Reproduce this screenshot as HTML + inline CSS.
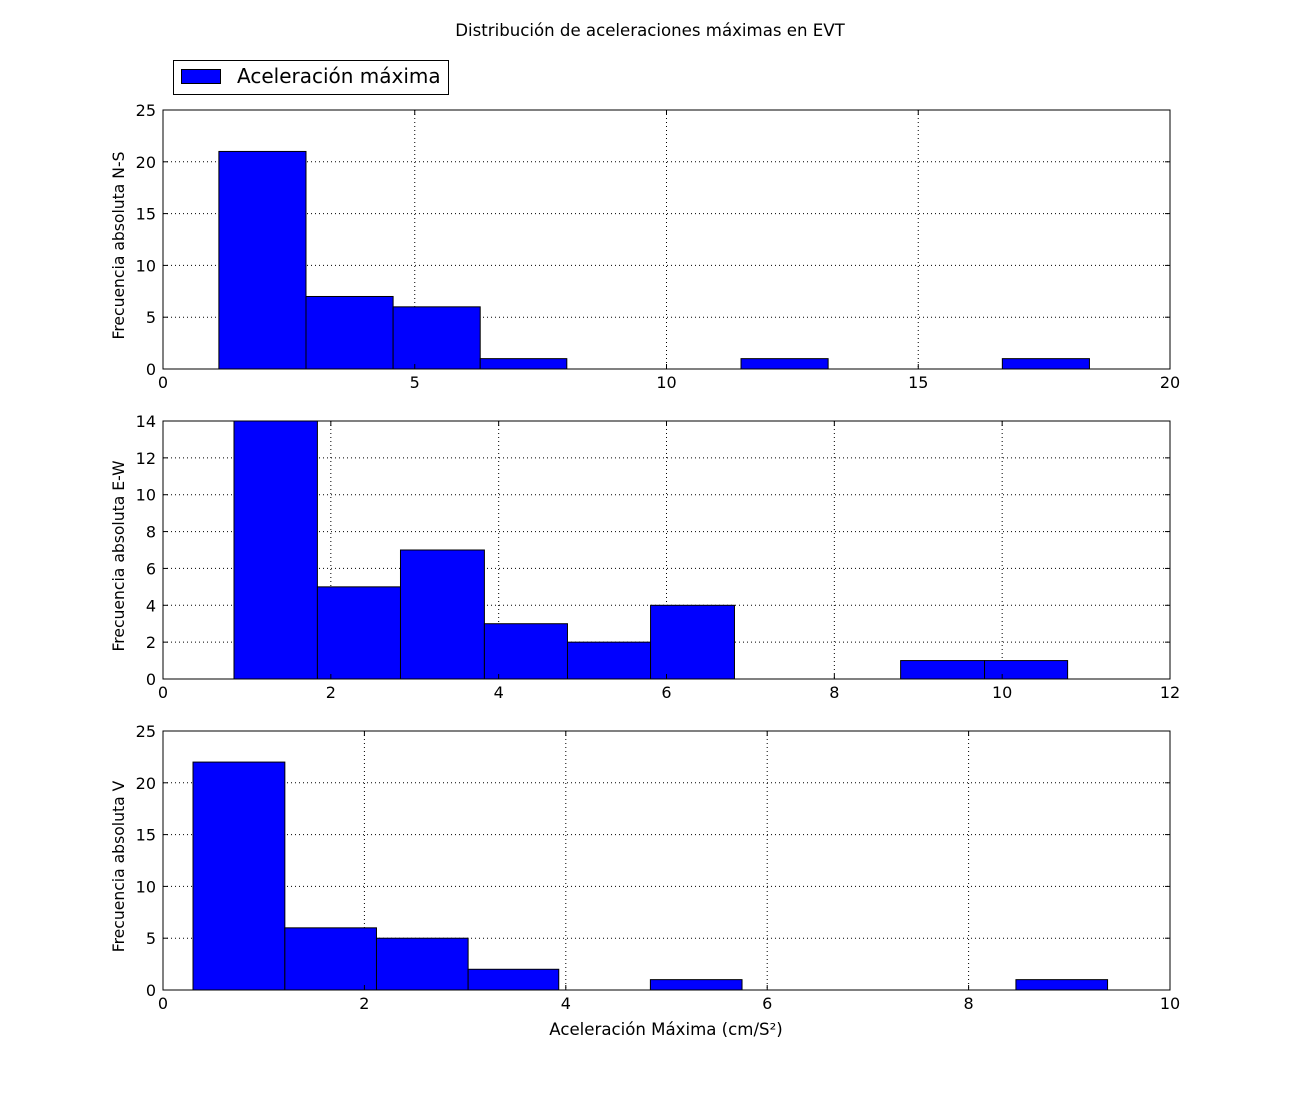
<!DOCTYPE html>
<html><head><meta charset="utf-8"><style>
body{margin:0;background:#fff;}
svg{display:block;font-family:"DejaVu Sans","Liberation Sans",sans-serif;}
</style></head><body>
<svg id="c" width="1300" height="1100" viewBox="0 0 1300 1100">
<text x="650" y="36" text-anchor="middle" font-size="16.6">Distribución de aceleraciones máximas en EVT</text>
<g>
<rect x="173.5" y="60.5" width="275" height="34" fill="#fff" stroke="#000"/>
<rect x="181.5" y="69.5" width="39" height="14" fill="#0000ff" stroke="#000"/>
<text x="237" y="83" font-size="20">Aceleración máxima</text>
</g>
<text x="666" y="1035" text-anchor="middle" font-size="16.6">Aceleración Máxima (cm/S²)</text>
</svg>
<script>
const nsEdges=[1.11,2.84,4.57,6.30,8.02,9.75,11.48,13.21,14.94,16.67,18.40];
const nsCounts=[21,7,6,1,0,0,1,0,0,1];
const nsXTicks=[0,5,10,15,20];
const nsYTicks=[0,5,10,15,20,25];
const ewEdges=[0.846,1.84,2.83,3.83,4.82,5.81,6.81,7.80,8.79,9.79,10.78];
const ewCounts=[14,5,7,3,2,4,0,0,1,1];
const ewXTicks=[0,2,4,6,8,10,12];
const ewYTicks=[0,2,4,6,8,10,12,14];
const vEdges=[0.298,1.21,2.12,3.03,3.93,4.84,5.75,6.66,7.57,8.47,9.38];
const vCounts=[22,6,5,2,0,1,0,0,0,1];
const vXTicks=[0,2,4,6,8,10];
const vYTicks=[0,5,10,15,20,25];
const svg=document.getElementById('c');
const NS='http://www.w3.org/2000/svg';
function mk(t,a,p){const e=document.createElementNS(NS,t);for(const k in a)e.setAttribute(k,a[k]);p.appendChild(e);return e;}
function panel(name,label,edges,counts,xt,yt,top,bot){
 const L=163,R=1170;
 const xmax=xt[xt.length-1],ymax=yt[yt.length-1];
 const X=v=>L+v/xmax*(R-L), Y=v=>bot-v/ymax*(bot-top);
 const g=mk('g',{},svg);
 
 
 xt.forEach(v=>{if(v>0&&v<xmax){const l=mk('line',{x1:X(v),x2:X(v),y1:top,y2:bot,stroke:'#000','stroke-dasharray':'1,3','stroke-width':1},g);
 
 }});
 yt.forEach(v=>{if(v>0&&v<ymax){const l=mk('line',{x1:L,x2:R,y1:Y(v),y2:Y(v),stroke:'#000','stroke-dasharray':'1,3','stroke-width':1},g);
 
 }});
 counts.forEach((c,i)=>{if(c>0){const r=mk('rect',{x:X(edges[i]),y:Y(c),width:X(edges[i+1])-X(edges[i]),height:bot-Y(c),fill:'#0000ff',stroke:'#000','stroke-width':1},g);
 
 }});
 const f=mk('rect',{x:L,y:top,width:R-L,height:bot-top,fill:'none',stroke:'#000','stroke-width':1},g);
 
 
 xt.forEach(v=>{mk('line',{x1:X(v),x2:X(v),y1:bot,y2:bot-5,stroke:'#000'},g);mk('line',{x1:X(v),x2:X(v),y1:top,y2:top+5,stroke:'#000'},g);
 const t=mk('text',{x:X(v),y:bot+19,'text-anchor':'middle','font-size':16},g);t.textContent=v;
 
 });
 yt.forEach(v=>{mk('line',{x1:L,x2:L+5,y1:Y(v),y2:Y(v),stroke:'#000'},g);mk('line',{x1:R,x2:R-5,y1:Y(v),y2:Y(v),stroke:'#000'},g);
 const t=mk('text',{x:L-7,y:Y(v)+6,'text-anchor':'end','font-size':16},g);t.textContent=v;
 
 });
 const yl=mk('text',{x:0,y:0,transform:`translate(124,${(top+bot)/2+6}) rotate(-90)`,'text-anchor':'middle','font-size':15.6},g);
 yl.textContent=label;
 
 
}
panel('ns','Frecuencia absoluta N-S',nsEdges,nsCounts,nsXTicks,nsYTicks,110,369);
panel('ew','Frecuencia absoluta E-W',ewEdges,ewCounts,ewXTicks,ewYTicks,421,679);
panel('v','Frecuencia absoluta V',vEdges,vCounts,vXTicks,vYTicks,731,990);
</script>
</body></html>
